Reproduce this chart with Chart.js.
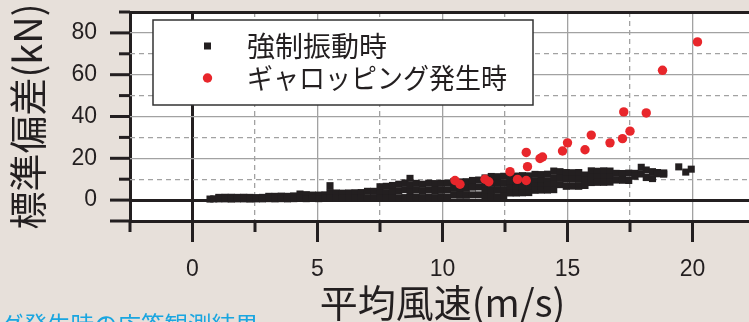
<!DOCTYPE html>
<html>
<head>
<meta charset="utf-8">
<script src="https://cdn.jsdelivr.net/npm/chart.js@4.4.1/dist/chart.umd.min.js"></script>
<style>
  html, body { margin: 0; padding: 0; background: #e7e0da; overflow: hidden; }
  #wrap { position: relative; width: 749px; height: 322px; overflow: hidden; }
  #c { position: absolute; left: 0; top: 0; }
  #caption { position: absolute; left: 0; top: 313px; font: 23.5px 'Noto Sans CJK JP'; line-height: 1; color: #1aa6e0; white-space: nowrap; }
</style>
</head>
<body>
<div id="wrap">
  <canvas id="c" width="760" height="322"></canvas>
  <div id="caption">グ発生時の応答観測結果</div>
</div>
<script>
const seriesLabels = ['強制振動時', 'ギャロッピング発生時'];
const xTickLabels = [0, 5, 10, 15, 20];
const yTickLabels = [0, 20, 40, 60, 80];

// 強制振動時: [mean wind speed, std values read at that speed]
const forcedColumns = [
  [0.70, [0.5]], [0.85, [0.6]],
  [1.05, [1.3, 0.6]], [1.30, [1.35, 0.6]], [1.55, [1.35, 0.5]], [1.80, [1.3, 0.6]],
  [2.05, [1.35, 0.6]], [2.30, [1.3, 0.5]], [2.55, [1.2, 0.6]], [2.80, [1.3, 0.6]],
  [3.05, [1.8, 0.7]], [3.30, [1.8, 0.6]], [3.55, [1.9, 0.7]], [3.80, [1.8, 0.6]],
  [4.05, [2.0, 0.7]], [4.30, [2.9, 0.8]], [4.55, [2.6, 0.7]], [4.80, [2.4, 0.8]],
  [5.05, [2.4, 0.7]], [5.30, [2.5, 0.8]], [5.50, [6.9, 3.6, 0.8]], [5.75, [3.4, 0.9]],
  [6.00, [3.3, 0.8]], [6.25, [3.4, 0.9]], [6.50, [3.5, 0.8]], [6.75, [3.6, 0.9]],
  [7.00, [4.2, 1.0]], [7.25, [4.2, 1.1]], [7.50, [6.4, 3.2, 1.0]], [7.75, [6.6, 3.5, 1.1]],
  [8.00, [7.0, 4.0, 1.2]], [8.25, [7.6, 4.4, 1.1]], [8.50, [8.2, 5.0, 1.2]],
  [8.70, [10.4, 7.0, 3.8, 1.2]], [8.95, [8.0, 4.8, 1.3]],
  [9.20, [7.6, 4.5, 1.2]], [9.45, [8.1, 4.8, 1.3]], [9.70, [7.9, 4.6, 1.2]], [9.95, [8.0, 4.7, 1.4]],
  [10.20, [8.1, 4.8, 1.3]], [10.45, [8.8, 5.6, 2.4]], [10.70, [8.7, 5.5, 2.3]], [10.95, [8.8, 5.6, 2.3]],
  [11.20, [9.4, 6.2, 2.5]], [11.45, [9.6, 6.3, 2.5]], [11.70, [10.6, 7.4, 4.2, 1.6]],
  [11.95, [11.3, 8.0, 4.8, 1.7]], [12.20, [11.2, 8.0, 4.8, 1.6]], [12.45, [11.4, 8.2, 5.0, 1.8]],
  [12.70, [11.6, 8.4, 5.6, 3.4]], [12.95, [11.5, 8.3, 5.6, 3.4]], [13.20, [11.7, 8.5, 5.8, 3.5]],
  [13.45, [11.6, 8.5, 6.0, 3.6]], [13.70, [12.3, 9.0, 6.6, 4.7]], [13.95, [12.2, 9.0, 6.8, 4.8]],
  [14.20, [12.4, 9.2, 7.0, 4.8]], [14.45, [13.9, 10.7, 7.6, 5.0]], [14.70, [13.6, 10.5, 7.4]],
  [14.95, [13.2, 10.0, 6.6]], [15.20, [13.1, 10.0, 6.7]], [15.45, [13.2, 9.9, 6.6]],
  [15.70, [12.0, 9.4, 7.0]], [15.95, [14.0, 11.0, 8.4]], [16.20, [13.8, 11.0, 8.5]],
  [16.45, [14.0, 11.2, 8.5]], [16.70, [13.9, 11.1, 8.6]], [16.95, [12.8, 9.6]],
  [17.20, [12.7, 9.5]], [17.45, [12.9, 9.4]], [17.70, [12.8, 11.4]], [17.95, [15.7, 12.5]],
  [18.15, [14.4, 10.8]], [18.40, [13.6, 10.3]], [18.60, [13.2, 12.6]], [18.85, [13.0, 12.4]],
  [19.45, [15.9]], [19.73, [13.4]], [19.95, [14.8]]
];

// ギャロッピング発生時
const gallopSpeed = [10.5, 10.7, 11.7, 11.85, 12.7, 13.0, 13.35, 13.35, 13.4, 13.9, 14.0,
  14.8, 15.0, 15.7, 15.95, 16.7, 17.2, 17.25, 17.5, 18.15, 18.8, 20.2];
const gallopStd = [9.4, 7.6, 10.0, 8.8, 13.6, 9.9, 9.4, 22.8, 16.0, 19.9, 20.6,
  23.5, 27.4, 24.1, 31.1, 27.4, 29.4, 42.2, 33.0, 41.7, 62.1, 75.7];

const ink = '#231f20';
const gridGray = '#a2a2a2';
const cjk = "'Noto Sans CJK JP', sans-serif";

const forcedPoints = [];
forcedColumns.forEach(([x, ys]) => ys.forEach(y => forcedPoints.push({ x, y })));
const gallopPoints = gallopSpeed.map((x, i) => ({ x, y: gallopStd[i] }));

const xFrame = [-2.5, 0];
const yFrame = [-10, 0, 90];

// white plot area on the beige page
const plotBg = {
  id: 'plotBg',
  beforeDraw(chart) {
    const { ctx, chartArea: a } = chart;
    ctx.save();
    ctx.fillStyle = '#fff';
    ctx.fillRect(a.left, a.top, a.right - a.left, a.bottom - a.top);
    ctx.restore();
  }
};

// outside tick marks, long at labelled values
const tickMarks = {
  id: 'tickMarks',
  afterDraw(chart) {
    const { ctx, chartArea } = chart;
    const xs = chart.scales.x, ys = chart.scales.y;
    ctx.save();
    ctx.strokeStyle = ink;
    ctx.lineWidth = 3;
    xs.ticks.forEach(t => {
      const px = xs.getPixelForValue(t.value);
      const len = xTickLabels.includes(t.value) ? 21 : 11;
      ctx.beginPath();
      ctx.moveTo(px, chartArea.bottom);
      ctx.lineTo(px, chartArea.bottom + len);
      ctx.stroke();
    });
    ys.ticks.forEach(t => {
      const py = ys.getPixelForValue(t.value);
      const len = (yTickLabels.includes(t.value) || t.value === -10) ? 20 : 11;
      ctx.beginPath();
      ctx.moveTo(chartArea.left, py);
      ctx.lineTo(chartArea.left - len, py);
      ctx.stroke();
    });
    ctx.restore();
  }
};

// boxed legend inside the plot
const boxLegend = {
  id: 'boxLegend',
  afterDatasetsDraw(chart) {
    const { ctx, chartArea } = chart;
    const left = chartArea.left + 23, top = chartArea.top + 8;
    ctx.save();
    ctx.fillStyle = '#fff';
    ctx.fillRect(left, top, 380, 85);
    ctx.strokeStyle = '#333';
    ctx.lineWidth = 1.5;
    ctx.strokeRect(left, top, 380, 85);
    chart.data.datasets.forEach((ds, i) => {
      const y = top + 26 + i * 32;
      ctx.fillStyle = ds.backgroundColor;
      if (ds.pointStyle === 'rect') {
        ctx.fillRect(left + 51, y - 3.5, 7, 7);
      } else {
        ctx.beginPath();
        ctx.arc(left + 54.5, y, 4.7, 0, Math.PI * 2);
        ctx.fill();
      }
      ctx.fillStyle = ink;
      ctx.font = '28px ' + cjk;
      ctx.textBaseline = 'middle';
      ctx.textAlign = 'left';
      ctx.fillText(ds.label, left + 94, y, i === 1 ? 260 : 200);
    });
    ctx.restore();
  }
};

new Chart(document.getElementById('c'), {
  type: 'scatter',
  data: {
    datasets: [
      {
        label: seriesLabels[0],
        data: forcedPoints,
        pointStyle: 'rect',
        pointRadius: 5,
        borderWidth: 0,
        backgroundColor: ink,
        order: 2
      },
      {
        label: seriesLabels[1],
        data: gallopPoints,
        pointStyle: 'circle',
        pointRadius: 4.7,
        borderWidth: 0,
        backgroundColor: '#e8262b',
        order: 1
      }
    ]
  },
  options: {
    responsive: false,
    animation: false,
    events: [],
    layout: { padding: { top: 12, right: 4, left: 0, bottom: 0 } },
    plugins: { legend: { display: false }, tooltip: { enabled: false } },
    scales: {
      x: {
        type: 'linear',
        min: -2.5,
        max: 22.5,
        afterFit: s => { s.height = 101; s.paddingLeft = 0; s.paddingRight = 0; },
        ticks: {
          stepSize: 2.5,
          autoSkip: false,
          maxRotation: 0,
          padding: 35,
          color: ink,
          font: { family: 'Liberation Sans', size: 23 },
          callback: v => xTickLabels.includes(v) ? String(v) : ''
        },
        grid: {
          drawTicks: false,
          color: c => xFrame.includes(c.tick.value) ? ink : gridGray,
          lineWidth: c => xFrame.includes(c.tick.value) ? 3 : 1.3
        },
        border: {
          display: false,
          dash: c => (c.tick && c.tick.value % 5 !== 0 && !xFrame.includes(c.tick.value)) ? [5, 4] : []
        },
        title: {
          display: true,
          text: '平均風速(m/s)',
          color: ink,
          font: { family: cjk, size: 38, lineHeight: 1 },
          padding: { top: 0, bottom: 0 }
        }
      },
      y: {
        type: 'linear',
        min: -10,
        max: 90,
        afterFit: s => { s.width = 130; s.paddingTop = 0; s.paddingBottom = 0; },
        ticks: {
          stepSize: 10,
          autoSkip: false,
          padding: 33,
          color: ink,
          font: { family: 'Liberation Sans', size: 23 },
          callback: v => yTickLabels.includes(v) ? String(v) : ''
        },
        grid: {
          drawTicks: false,
          color: c => yFrame.includes(c.tick.value) ? ink : gridGray,
          lineWidth: c => yFrame.includes(c.tick.value) ? 3 : 1.3
        },
        border: {
          display: false,
          dash: c => (c.tick && c.tick.value % 20 !== 0 && !yFrame.includes(c.tick.value)) ? [5, 4] : []
        },
        title: {
          display: true,
          text: '標準偏差(kN)',
          color: ink,
          font: { family: cjk, size: 38, lineHeight: 1 },
          padding: { top: 9, bottom: 0 }
        }
      }
    }
  },
  plugins: [plotBg, tickMarks, boxLegend]
});
</script>
</body>
</html>
